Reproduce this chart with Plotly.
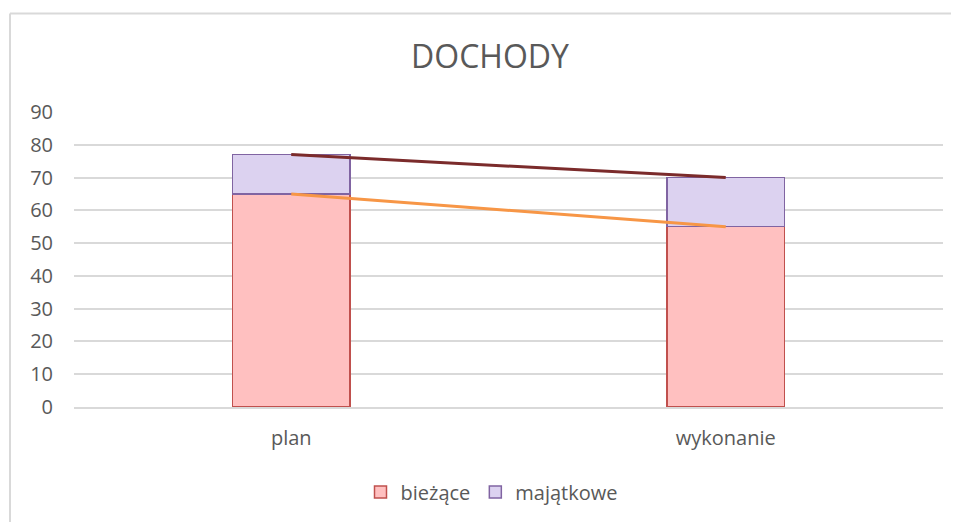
import plotly.graph_objects as go

categories = ["plan", "wykonanie"]
biezace = [65, 55]
majatkowe = [12, 15]
totals = [b + m for b, m in zip(biezace, majatkowe)]
y_ticks = [0, 10, 20, 30, 40, 50, 60, 70, 80, 90]

FONT = "Open Sans"
GRAY = "#595959"

# page body has an 8px margin in the browser; figure sized to fit the window
W, H = 951, 514
ML, MR, MT, MB = 66, 16, 104, 115
PW, PH = W - ML - MR, H - MT - MB

fig = go.Figure()
fig.add_trace(go.Bar(
    x=categories, y=biezace, name="bieżące",
    marker=dict(color="#FFC0C0", line=dict(color="#C0504D", width=1.5)),
    width=0.27,
))
fig.add_trace(go.Bar(
    x=categories, y=majatkowe, name="majątkowe",
    marker=dict(color="#DCD2F0", line=dict(color="#8064A2", width=1.5)),
    width=0.27,
))
fig.add_trace(go.Scatter(
    x=categories, y=biezace, mode="lines", showlegend=False,
    line=dict(color="#F79646", width=3), hoverinfo="skip",
))
fig.add_trace(go.Scatter(
    x=categories, y=totals, mode="lines", showlegend=False,
    line=dict(color="#7B2B2B", width=3), hoverinfo="skip",
))

top_y = 1 + (MT + 8 - 13.5) / PH
left_x = -(ML + 8 - 10) / PW
fig.update_layout(
    barmode="stack",
    width=W, height=H,
    paper_bgcolor="white", plot_bgcolor="white",
    margin=dict(l=ML, r=MR, t=MT, b=MB, autoexpand=False),
    title=dict(text="DOCHODY", x=(490 - 8) / W, xanchor="center", y=1 - 49 / H, yanchor="middle",
               font=dict(family=FONT, size=32, color=GRAY)),
    font=dict(family=FONT, size=20, color=GRAY),
    legend=dict(orientation="h", x=(492 - 74) / PW, xanchor="center",
                y=-(492 - 407) / PH, yanchor="middle",
                font=dict(family=FONT, size=20, color=GRAY), itemwidth=30,
                traceorder="normal"),
    xaxis=dict(showgrid=False, showline=True, linecolor="#D9D9D9", linewidth=1.5,
               ticks="", ticklabelstandoff=12, tickfont=dict(size=20, color=GRAY)),
    yaxis=dict(range=[0, 90], tickvals=y_ticks, showgrid=True, gridcolor="#D9D9D9",
               gridwidth=1.5, zeroline=False, showline=False, ticks="",
               ticklabelstandoff=20, tickfont=dict(size=20, color=GRAY)),
    shapes=[
        dict(type="line", xref="paper", yref="paper", x0=left_x, x1=1 + MR / PW,
             y0=top_y, y1=top_y, line=dict(color="#D9D9D9", width=2)),
        dict(type="line", xref="paper", yref="paper", x0=left_x, x1=left_x,
             y0=top_y, y1=-MB / PH, line=dict(color="#D9D9D9", width=2)),
    ],
    showlegend=True,
)

fig.write_html("out.html")
